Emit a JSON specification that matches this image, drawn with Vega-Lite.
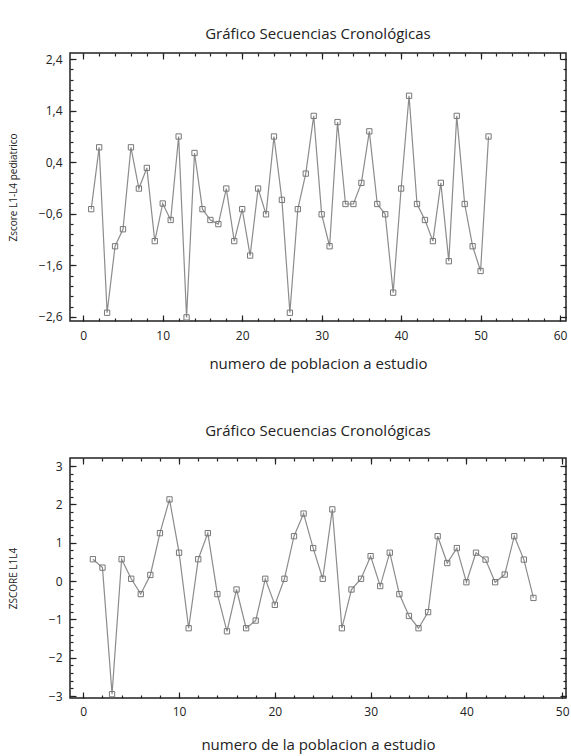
{
  "$schema": "https://vega.github.io/schema/vega-lite/v6.json",
  "background": "white",
  "padding": {"left": 7, "top": 26, "right": 4, "bottom": 4},
  "spacing": 51,
  "config": {
    "view": {"stroke": "#222", "strokeWidth": 1.5},
    "font": "Open Sans",
    "axis": {"grid": false, "domain": false, "labelFont": "Open Sans", "labelFontSize": 12, "labelColor": "#222", "tickColor": "#222", "tickWidth": 1.2, "titleFont": "Open Sans", "titleFontWeight": "normal", "titleColor": "#222"},
    "title": {"font": "Open Sans", "fontSize": 15, "fontWeight": "normal", "color": "#222", "anchor": "middle"}
  },
  "datasets": {
    "top": [
      {"n": 1, "z": -0.51}, {"n": 2, "z": 0.69}, {"n": 3, "z": -2.52}, {"n": 4, "z": -1.23}, {"n": 5, "z": -0.90},
      {"n": 6, "z": 0.69}, {"n": 7, "z": -0.11}, {"n": 8, "z": 0.29}, {"n": 9, "z": -1.13}, {"n": 10, "z": -0.40},
      {"n": 11, "z": -0.72}, {"n": 12, "z": 0.90}, {"n": 13, "z": -2.61}, {"n": 14, "z": 0.58}, {"n": 15, "z": -0.51},
      {"n": 16, "z": -0.72}, {"n": 17, "z": -0.80}, {"n": 18, "z": -0.11}, {"n": 19, "z": -1.13}, {"n": 20, "z": -0.51},
      {"n": 21, "z": -1.41}, {"n": 22, "z": -0.11}, {"n": 23, "z": -0.61}, {"n": 24, "z": 0.90}, {"n": 25, "z": -0.33},
      {"n": 26, "z": -2.52}, {"n": 27, "z": -0.51}, {"n": 28, "z": 0.18}, {"n": 29, "z": 1.30}, {"n": 30, "z": -0.61},
      {"n": 31, "z": -1.23}, {"n": 32, "z": 1.18}, {"n": 33, "z": -0.41}, {"n": 34, "z": -0.41}, {"n": 35, "z": 0.00},
      {"n": 36, "z": 1.00}, {"n": 37, "z": -0.41}, {"n": 38, "z": -0.61}, {"n": 39, "z": -2.13}, {"n": 40, "z": -0.11},
      {"n": 41, "z": 1.69}, {"n": 42, "z": -0.41}, {"n": 43, "z": -0.72}, {"n": 44, "z": -1.13}, {"n": 45, "z": 0.00},
      {"n": 46, "z": -1.52}, {"n": 47, "z": 1.30}, {"n": 48, "z": -0.41}, {"n": 49, "z": -1.23}, {"n": 50, "z": -1.71},
      {"n": 51, "z": 0.90}
    ],
    "bottom": [
      {"n": 1, "z": 0.57}, {"n": 2, "z": 0.35}, {"n": 3, "z": -2.95}, {"n": 4, "z": 0.57}, {"n": 5, "z": 0.06},
      {"n": 6, "z": -0.34}, {"n": 7, "z": 0.16}, {"n": 8, "z": 1.25}, {"n": 9, "z": 2.13}, {"n": 10, "z": 0.74},
      {"n": 11, "z": -1.23}, {"n": 12, "z": 0.57}, {"n": 13, "z": 1.25}, {"n": 14, "z": -0.34}, {"n": 15, "z": -1.31},
      {"n": 16, "z": -0.22}, {"n": 17, "z": -1.23}, {"n": 18, "z": -1.03}, {"n": 19, "z": 0.06}, {"n": 20, "z": -0.62},
      {"n": 21, "z": 0.06}, {"n": 22, "z": 1.17}, {"n": 23, "z": 1.76}, {"n": 24, "z": 0.86}, {"n": 25, "z": 0.06},
      {"n": 26, "z": 1.87}, {"n": 27, "z": -1.23}, {"n": 28, "z": -0.22}, {"n": 29, "z": 0.06}, {"n": 30, "z": 0.65},
      {"n": 31, "z": -0.13}, {"n": 32, "z": 0.74}, {"n": 33, "z": -0.34}, {"n": 34, "z": -0.91}, {"n": 35, "z": -1.23},
      {"n": 36, "z": -0.81}, {"n": 37, "z": 1.17}, {"n": 38, "z": 0.47}, {"n": 39, "z": 0.86}, {"n": 40, "z": -0.03},
      {"n": 41, "z": 0.74}, {"n": 42, "z": 0.56}, {"n": 43, "z": -0.03}, {"n": 44, "z": 0.17}, {"n": 45, "z": 1.17},
      {"n": 46, "z": 0.56}, {"n": 47, "z": -0.44}
    ]
  },
  "vconcat": [
    {
      "title": {"text": "Gráfico Secuencias Cronológicas", "offset": 10},
      "width": 496,
      "height": 268,
      "data": {"name": "top"},
      "layer": [
        {
          "mark": {"type": "line", "color": "#8c8c8c", "strokeWidth": 1.2},
          "encoding": {
            "x": {"field": "n", "type": "quantitative", "scale": {"domain": [-1.67, 60.75], "nice": false, "zero": false},
                  "axis": {"orient": "bottom", "values": [0, 10, 20, 30, 40, 50, 60], "tickSize": -6, "labelPadding": 15, "title": "numero de poblacion a estudio", "titleFontSize": 15, "titlePadding": 15}},
            "y": {"field": "z", "type": "quantitative", "scale": {"domain": [-2.68, 2.52], "nice": false, "zero": false},
                  "axis": {"orient": "left", "values": [-2.6, -1.6, -0.6, 0.4, 1.4, 2.4], "tickSize": -6, "labelPadding": 14, "labelExpr": "replace(format(datum.value, '.1f'), '.', ',')", "title": "Zscore L1-L4 pediatrico", "titleFontSize": 10, "titlePadding": 20}}
          }
        },
        {
          "mark": {"type": "point", "shape": "square", "size": 28, "filled": false, "color": "#777", "strokeWidth": 1, "opacity": 1},
          "encoding": {
            "x": {"field": "n", "type": "quantitative", "axis": {"orient": "bottom", "values": [0,2,4,6,8,10,12,14,16,18,20,22,24,26,28,30,32,34,36,38,40,42,44,46,48,50,52,54,56,58,60], "tickSize": -3, "labels": false, "title": null}},
            "y": {"field": "z", "type": "quantitative", "axis": {"orient": "left", "values": [-2.6,-2.4,-2.2,-2.0,-1.8,-1.6,-1.4,-1.2,-1.0,-0.8,-0.6,-0.4,-0.2,0,0.2,0.4,0.6,0.8,1.0,1.2,1.4,1.6,1.8,2.0,2.2,2.4], "tickSize": -3, "labels": false, "title": null}}
          }
        },
        {
          "mark": {"type": "point", "opacity": 0},
          "encoding": {
            "x": {"field": "n", "type": "quantitative", "axis": {"orient": "top", "values": [0, 10, 20, 30, 40, 50, 60], "tickSize": -6, "labels": false, "title": null}},
            "y": {"field": "z", "type": "quantitative", "axis": {"orient": "right", "values": [-2.6, -1.6, -0.6, 0.4, 1.4, 2.4], "tickSize": -6, "labels": false, "title": null}}
          }
        },
        {
          "mark": {"type": "point", "opacity": 0},
          "encoding": {
            "x": {"field": "n", "type": "quantitative", "axis": {"orient": "top", "values": [0,2,4,6,8,10,12,14,16,18,20,22,24,26,28,30,32,34,36,38,40,42,44,46,48,50,52,54,56,58,60], "tickSize": -3, "labels": false, "title": null}},
            "y": {"field": "z", "type": "quantitative", "axis": {"orient": "right", "values": [-2.6,-2.4,-2.2,-2.0,-1.8,-1.6,-1.4,-1.2,-1.0,-0.8,-0.6,-0.4,-0.2,0,0.2,0.4,0.6,0.8,1.0,1.2,1.4,1.6,1.8,2.0,2.2,2.4], "tickSize": -3, "labels": false, "title": null}}
          }
        }
      ],
      "resolve": {"axis": {"x": "independent", "y": "independent"}}
    },
    {
      "title": {"text": "Gráfico Secuencias Cronológicas", "offset": 18},
      "width": 496,
      "height": 240,
      "data": {"name": "bottom"},
      "layer": [
        {
          "mark": {"type": "line", "color": "#8c8c8c", "strokeWidth": 1.2},
          "encoding": {
            "x": {"field": "n", "type": "quantitative", "scale": {"domain": [-1.39, 50.4], "nice": false, "zero": false},
                  "axis": {"orient": "bottom", "values": [0, 10, 20, 30, 40, 50], "tickSize": -6, "labelPadding": 14, "title": "numero de la poblacion a estudio", "titleFontSize": 15, "titlePadding": 20}},
            "y": {"field": "z", "type": "quantitative", "scale": {"domain": [-3.05, 3.21], "nice": false, "zero": false},
                  "axis": {"orient": "left", "values": [-3, -2, -1, 0, 1, 2, 3], "tickSize": -6, "labelPadding": 14, "title": "ZSCORE L1L4", "titleFontSize": 10, "titlePadding": 30}}
          }
        },
        {
          "mark": {"type": "point", "shape": "square", "size": 28, "filled": false, "color": "#777", "strokeWidth": 1, "opacity": 1},
          "encoding": {
            "x": {"field": "n", "type": "quantitative", "axis": {"orient": "bottom", "values": [0,2,4,6,8,10,12,14,16,18,20,22,24,26,28,30,32,34,36,38,40,42,44,46,48,50], "tickSize": -3, "labels": false, "title": null}},
            "y": {"field": "z", "type": "quantitative", "axis": {"orient": "left", "values": [-3,-2.8,-2.6,-2.4,-2.2,-2,-1.8,-1.6,-1.4,-1.2,-1,-0.8,-0.6,-0.4,-0.2,0,0.2,0.4,0.6,0.8,1,1.2,1.4,1.6,1.8,2,2.2,2.4,2.6,2.8,3], "tickSize": -3, "labels": false, "title": null}}
          }
        },
        {
          "mark": {"type": "point", "opacity": 0},
          "encoding": {
            "x": {"field": "n", "type": "quantitative", "axis": {"orient": "top", "values": [0, 10, 20, 30, 40, 50], "tickSize": -6, "labels": false, "title": null}},
            "y": {"field": "z", "type": "quantitative", "axis": {"orient": "right", "values": [-3, -2, -1, 0, 1, 2, 3], "tickSize": -6, "labels": false, "title": null}}
          }
        },
        {
          "mark": {"type": "point", "opacity": 0},
          "encoding": {
            "x": {"field": "n", "type": "quantitative", "axis": {"orient": "top", "values": [0,2,4,6,8,10,12,14,16,18,20,22,24,26,28,30,32,34,36,38,40,42,44,46,48,50], "tickSize": -3, "labels": false, "title": null}},
            "y": {"field": "z", "type": "quantitative", "axis": {"orient": "right", "values": [-3,-2.8,-2.6,-2.4,-2.2,-2,-1.8,-1.6,-1.4,-1.2,-1,-0.8,-0.6,-0.4,-0.2,0,0.2,0.4,0.6,0.8,1,1.2,1.4,1.6,1.8,2,2.2,2.4,2.6,2.8,3], "tickSize": -3, "labels": false, "title": null}}
          }
        }
      ],
      "resolve": {"axis": {"x": "independent", "y": "independent"}}
    }
  ]
}
